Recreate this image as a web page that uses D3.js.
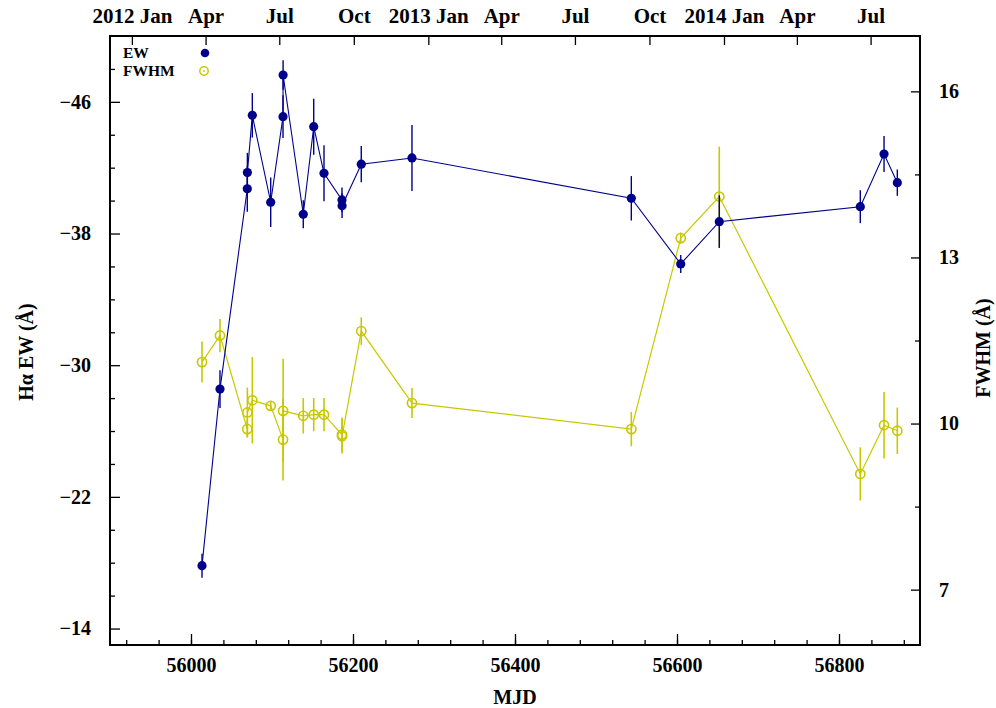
<!DOCTYPE html>
<html>
<head>
<meta charset="utf-8">
<script src="https://cdn.jsdelivr.net/npm/d3@7"></script>
<style>
  html, body { margin: 0; padding: 0; background: #fff; }
  svg text { font-family: "Liberation Serif", "Times New Roman", serif; font-weight: bold; fill: #000; }
</style>
</head>
<body>
<svg id="chart" width="996" height="708"></svg>
<script>
// Hα equivalent width (Å) per epoch, with 1σ errors
const ewMJD = [56013.6, 56035.8, 56069.5, 56069.6, 56075.7, 56098.4, 56113.6, 56113.7,
               56138.6, 56151.5, 56164.2, 56186.4, 56186.5, 56210.2, 56272.8, 56543.6,
               56604.6, 56652.2, 56826.3, 56855.6, 56872.0];
const ewVal = [-17.82, -28.55, -40.72, -41.70, -45.18, -39.90, -45.10, -47.63,
               -39.17, -44.49, -41.66, -40.04, -39.69, -42.21, -42.59, -40.14,
               -36.15, -38.72, -39.63, -42.83, -41.09];
const ewErr = [0.73, 1.15, 1.4, 1.2, 1.35, 1.5, 1.3, 0.9,
               0.85, 1.7, 1.7, 0.75, 0.75, 1.1, 2.0, 1.35,
               0.55, 1.6, 1.0, 1.1, 0.8];

// Hα FWHM (Å) per epoch, with 1σ errors
const fwMJD = [56013.6, 56035.8, 56069.5, 56069.6, 56075.7, 56098.4, 56113.6, 56113.7,
               56138.6, 56151.5, 56164.2, 56186.4, 56186.5, 56210.2, 56272.8, 56543.6,
               56604.6, 56652.2, 56826.3, 56855.6, 56872.0];
const fwVal = [11.11, 11.59, 9.90, 10.20, 10.42, 10.32, 9.71, 10.23,
               10.14, 10.16, 10.16, 9.80, 9.77, 11.67, 10.37, 9.90,
               13.35, 14.10, 9.09, 9.97, 9.87];
const fwErr = [0.37, 0.30, 0.15, 0.45, 0.78, 0.09, 0.74, 0.94,
               0.32, 0.30, 0.30, 0.31, 0.31, 0.25, 0.27, 0.31,
               0.10, 0.90, 0.48, 0.60, 0.42];

// Axis tick values and labels
const mjdMajor = [56000, 56200, 56400, 56600, 56800];
const ewMajor = [-46, -38, -30, -22, -14];
const fwMajor = [16, 13, 10, 7];
const calDates = ["2012-01-01", "2012-04-01", "2012-07-01", "2012-10-01", "2013-01-01", "2013-04-01",
                  "2013-07-01", "2013-10-01", "2014-01-01", "2014-04-01", "2014-07-01"];
const calLabels = ["2012 Jan", "Apr", "Jul", "Oct", "2013 Jan", "Apr", "Jul", "Oct", "2014 Jan", "Apr", "Jul"];

const EW_COLOR = "#00008c";
const FW_COLOR = "#c8c800";

const svg = d3.select("#chart");
const L = 110, R = 920, T = 36, B = 645;

const x = d3.scaleLinear().domain([55900, 56900]).range([L, R]);
const yEW = d3.scaleLinear().domain([-50, -13]).range([T, B]);
const yFW = d3.scaleLinear().domain([17, 6]).range([T, B]);

const toMJD = s => Date.parse(s + "T00:00:00Z") / 86400000 + 40587;
const fmtMinus = v => (v < 0 ? "\u2212" + Math.abs(v) : String(v));

function styleAxis(g, size) {
  g.select(".domain").remove();
  g.selectAll(".tick line").attr("stroke", "#000").attr("stroke-width", 1.3);
  g.selectAll(".tick text").style("font-size", (size || 20) + "px");
}

// bottom MJD axis: major and minor ticks pointing inward
svg.append("g").attr("transform", `translate(0,${B})`)
  .call(d3.axisBottom(x).tickValues(d3.range(55920, 56900, 40)).tickSize(-5).tickFormat(""))
  .call(styleAxis);
svg.append("g").attr("transform", `translate(0,${B})`)
  .call(d3.axisBottom(x).tickValues(mjdMajor).tickSize(-11).tickFormat(d3.format("d")))
  .call(g => styleAxis(g, 20))
  .call(g => g.selectAll(".tick text").attr("y", 13));

// top calendar axis
svg.append("g").attr("transform", `translate(0,${T})`)
  .call(d3.axisTop(x).tickValues(calDates.map(toMJD)).tickSize(-9)
        .tickFormat((d, i) => calLabels[i]))
  .call(g => styleAxis(g, 21))
  .call(g => g.selectAll(".tick text").attr("y", -13).attr("dy", "0"));

// left EW axis
svg.append("g").attr("transform", `translate(${L},0)`)
  .call(d3.axisLeft(yEW).tickValues(d3.range(-48, -13, 2).filter(v => !ewMajor.includes(v))).tickSize(-5).tickFormat(""))
  .call(styleAxis);
svg.append("g").attr("transform", `translate(${L},0)`)
  .call(d3.axisLeft(yEW).tickValues(ewMajor).tickSize(-10).tickFormat(fmtMinus))
  .call(g => styleAxis(g, 20))
  .call(g => g.selectAll(".tick text").attr("x", -19));

// right FWHM axis
svg.append("g").attr("transform", `translate(${R},0)`)
  .call(d3.axisRight(yFW).tickValues([14.5, 11.5, 8.5]).tickSize(-5).tickFormat(""))
  .call(styleAxis);
svg.append("g").attr("transform", `translate(${R},0)`)
  .call(d3.axisRight(yFW).tickValues(fwMajor).tickSize(-9).tickFormat(d3.format("d")))
  .call(g => styleAxis(g, 20))
  .call(g => g.selectAll(".tick text").attr("x", 19));

// frame
svg.append("rect").attr("x", L).attr("y", T).attr("width", R - L).attr("height", B - T)
  .attr("fill", "none").attr("stroke", "#000").attr("stroke-width", 2);

// axis titles
svg.append("text").attr("x", x(56400)).attr("y", 704).attr("text-anchor", "middle")
  .style("font-size", "20px").text("MJD");
svg.append("text").attr("transform", "translate(33,352) rotate(-90)").attr("text-anchor", "middle")
  .style("font-size", "20px").text("H\u03b1 EW (\u00c5)");
svg.append("text").attr("transform", "translate(990,348) rotate(-90)").attr("text-anchor", "middle")
  .style("font-size", "20px").text("FWHM (\u00c5)");

const ew = ewMJD.map((m, i) => ({ m, v: ewVal[i], e: ewErr[i] }));
const fw = fwMJD.map((m, i) => ({ m, v: fwVal[i], e: fwErr[i] }));

// FWHM series
const gF = svg.append("g");
gF.append("path").datum(fw)
  .attr("d", d3.line().x(d => x(d.m)).y(d => yFW(d.v)))
  .attr("fill", "none").attr("stroke", FW_COLOR).attr("stroke-width", 1.2);
gF.selectAll("line.err").data(fw).join("line").attr("class", "err")
  .attr("x1", d => x(d.m)).attr("x2", d => x(d.m))
  .attr("y1", d => yFW(d.v - d.e)).attr("y2", d => yFW(d.v + d.e))
  .attr("stroke", FW_COLOR).attr("stroke-width", 1.6);
gF.selectAll("circle").data(fw).join("circle")
  .attr("cx", d => x(d.m)).attr("cy", d => yFW(d.v)).attr("r", 4.6)
  .attr("fill", "none").attr("stroke", FW_COLOR).attr("stroke-width", 1.6);

// EW series
const gE = svg.append("g");
gE.append("path").datum(ew)
  .attr("d", d3.line().x(d => x(d.m)).y(d => yEW(d.v)))
  .attr("fill", "none").attr("stroke", EW_COLOR).attr("stroke-width", 1.1);
gE.selectAll("line.err").data(ew).join("line").attr("class", "err")
  .attr("x1", d => x(d.m)).attr("x2", d => x(d.m))
  .attr("y1", d => yEW(d.v - d.e)).attr("y2", d => yEW(d.v + d.e))
  .attr("stroke", EW_COLOR).attr("stroke-width", 1.4);
gE.selectAll("circle").data(ew).join("circle")
  .attr("cx", d => x(d.m)).attr("cy", d => yEW(d.v)).attr("r", 4.6)
  .attr("fill", EW_COLOR);

// legend
const leg = svg.append("g");
leg.append("text").attr("x", 123).attr("y", 58).style("font-size", "15.5px").text("EW");
leg.append("text").attr("x", 123).attr("y", 76).style("font-size", "15.5px").text("FWHM");
leg.append("circle").attr("cx", 205).attr("cy", 53).attr("r", 4.3).attr("fill", EW_COLOR);
leg.append("circle").attr("cx", 204).attr("cy", 71).attr("r", 4.2)
  .attr("fill", "none").attr("stroke", FW_COLOR).attr("stroke-width", 1.5);
leg.append("circle").attr("cx", 204).attr("cy", 71).attr("r", 0.9).attr("fill", FW_COLOR);
</script>
</body>
</html>
